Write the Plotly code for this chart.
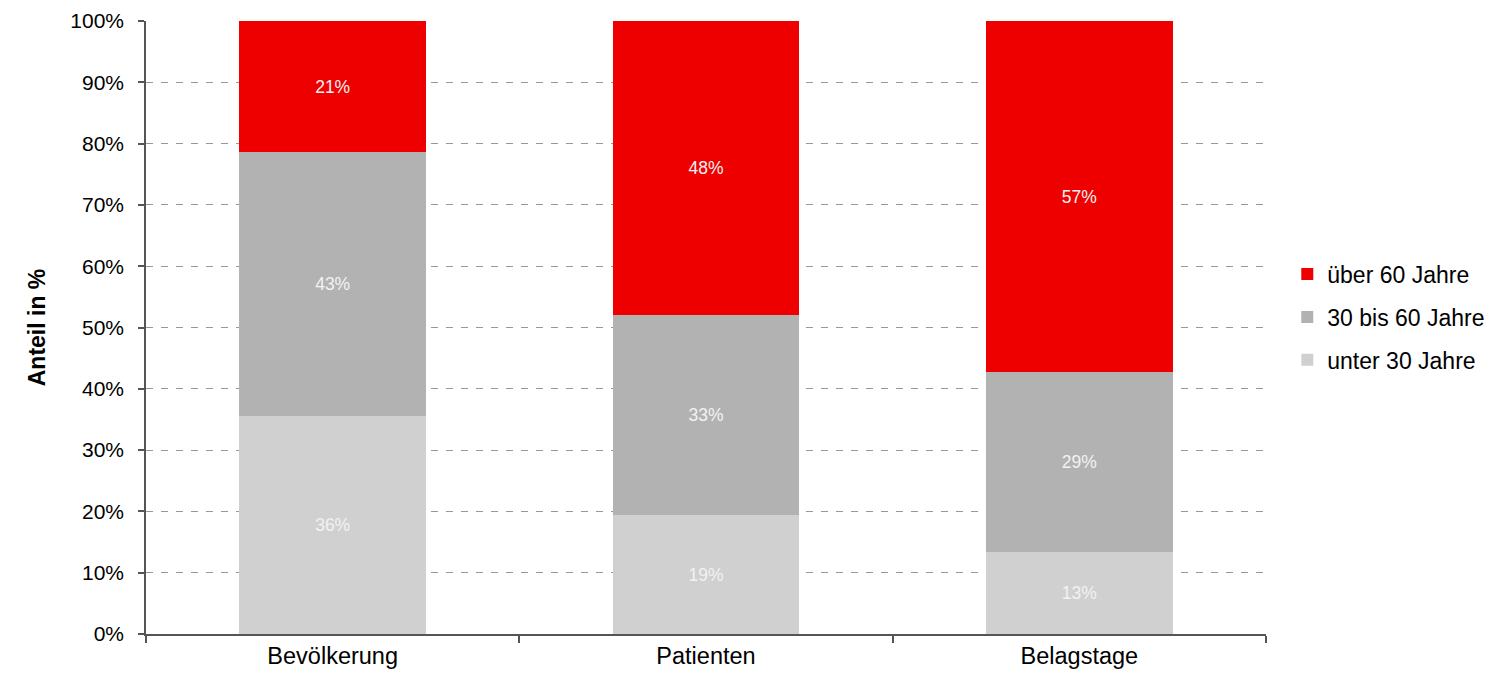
import plotly.graph_objects as go

categories = ["Bevölkerung", "Patienten", "Belagstage"]
series_names = ["unter 30 Jahre", "30 bis 60 Jahre", "über 60 Jahre"]
under_30 = [35.6, 19.4, 13.3]
age_30_60 = [43.0, 32.7, 29.4]
over_60 = [21.4, 47.9, 57.3]
y_tick_values = [0, 10, 20, 30, 40, 50, 60, 70, 80, 90, 100]
y_tick_labels = ["0%", "10%", "20%", "30%", "40%", "50%", "60%", "70%", "80%", "90%", "100%"]

colors = ["#D0D0D0", "#B2B2B2", "#EE0000"]
series_values = [under_30, age_30_60, over_60]
legend_ranks = [3, 2, 1]

FONT = "Liberation Sans, Arial, sans-serif"

fig = go.Figure()
for i, (name, vals) in enumerate(zip(series_names, series_values)):
    fig.add_trace(go.Bar(
        x=categories,
        y=vals,
        name=name,
        legendgroup=name,
        legendrank=legend_ranks[i],
        marker=dict(color=colors[i], line=dict(width=0)),
        text=[f"{v:.0f}%" for v in vals],
        textposition="inside",
        insidetextanchor="middle",
        textangle=0,
        constraintext="none",
        textfont=dict(family=FONT, size=17.5, color="#F2F2F2"),
        width=0.5,
        hoverinfo="skip",
    ))

fig.update_layout(
    width=1510,
    height=685,
    margin=dict(l=146, r=244, t=21, b=51),
    barmode="stack",
    plot_bgcolor="white",
    paper_bgcolor="white",
    font=dict(family=FONT, size=21, color="#000000"),
    showlegend=True,
    legend=dict(
        x=1.019, y=0.517, xanchor="left", yanchor="middle",
        traceorder="grouped",
        tracegroupgap=10,
        font=dict(family=FONT, size=23, color="#000000"),
        itemwidth=30,
        bgcolor="rgba(0,0,0,0)",
    ),
    xaxis=dict(
        automargin=False,
        showline=True, linecolor="#555555", linewidth=1.5,
        ticks="outside", tickson="boundaries", ticklen=7, tickcolor="#555555", tickwidth=1.5,
        showgrid=False, zeroline=False,
        tickfont=dict(family=FONT, size=23.5, color="#000000"),
    ),
    yaxis=dict(
        automargin=False,
        range=[0, 100],
        tickvals=y_tick_values,
        ticktext=y_tick_labels,
        showline=True, linecolor="#555555", linewidth=1.5,
        ticks="outside", ticklen=6, tickcolor="#555555", tickwidth=1.5,
        ticklabelstandoff=10,
        showgrid=True, gridcolor="#999999", gridwidth=1, griddash="7px,8px",
        zeroline=False,
        tickfont=dict(family=FONT, size=21, color="#000000"),
        title=dict(text="<b>Anteil in %</b>", font=dict(family=FONT, size=23, color="#000000"), standoff=18),
    ),
)

fig.write_html("out.html", config={"displayModeBar": False},
               post_script="document.body.style.margin='0';")
